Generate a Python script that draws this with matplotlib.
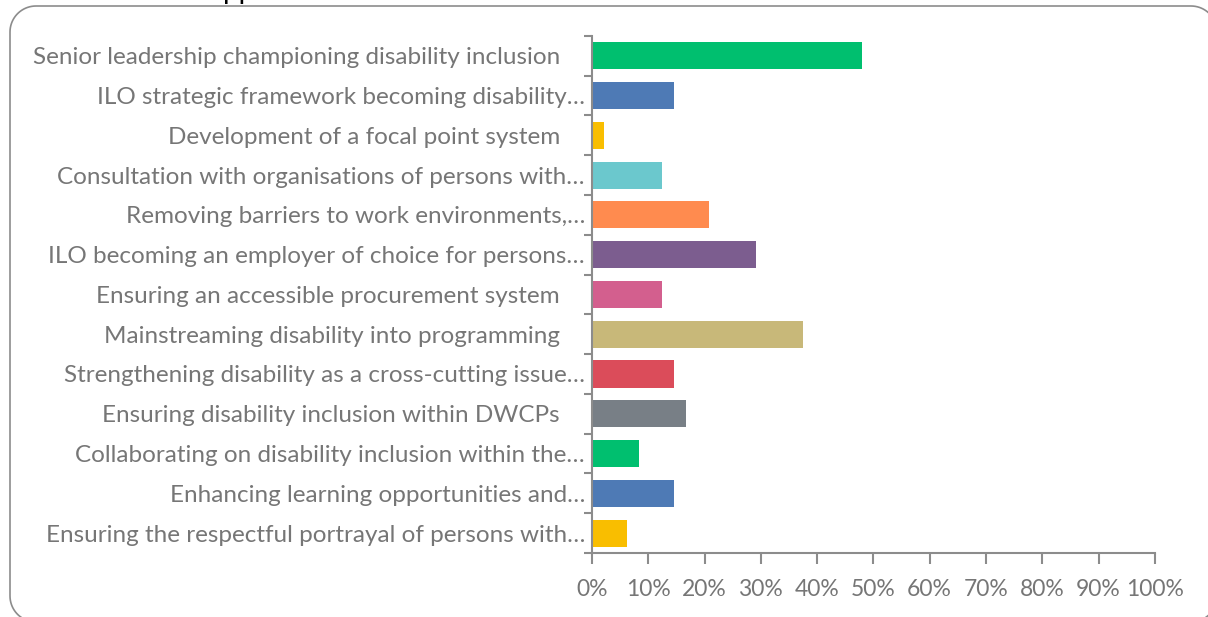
import numpy as np
import matplotlib.pyplot as plt
from matplotlib.lines import Line2D
from matplotlib.ticker import FuncFormatter

plt.rcParams['font.family'] = ['Lato', 'DejaVu Sans']

# survey responses (share of respondents), top to bottom
labels = [
    "Senior leadership championing disability inclusion    ",
    "ILO strategic framework becoming disability…",
    "Development of a focal point system    ",
    "Consultation with organisations of persons with…",
    "Removing barriers to work environments,…",
    "ILO becoming an employer of choice for persons…",
    "Ensuring an accessible procurement system    ",
    "Mainstreaming disability into programming    ",
    "Strengthening disability as a cross-cutting issue…",
    "Ensuring disability inclusion within DWCPs    ",
    "Collaborating on disability inclusion within the…",
    "Enhancing learning opportunities and…",
    "Ensuring the respectful portrayal of persons with…",
]
values = [47.9, 14.6, 2.1, 12.5, 20.8, 29.2, 12.5, 37.5, 14.6, 16.7, 8.3, 14.6, 6.25]
colors = ["#00BF6F", "#4E7AB5", "#F9BE00", "#6BC8CD", "#FF8B4F", "#7C5D8F",
          "#D35F8E", "#C8B879", "#DB4C5A", "#787F86", "#00BF6F", "#4E7AB5", "#F9BE00"]

axis_col = "#8c8c8c"
text_col = "#767676"

fig = plt.figure(figsize=(12.08, 6.17), dpi=100)
ax = fig.add_axes([0.49, 0.1037, 0.466, 0.8383])

pos = list(range(len(labels)))
ax.barh(pos, values, height=0.68, color=colors)
ax.set_ylim(len(labels) - 0.5, -0.5)
ax.set_xlim(0, 100)

ax.set_yticks(pos)
ax.set_yticklabels(labels, fontsize=17.5, color=text_col)
ax.set_yticks([p - 0.5 for p in pos] + [len(labels) - 0.5], minor=True)
ax.tick_params(axis='y', which='major', length=0, pad=5)
ax.tick_params(axis='y', which='minor', length=6, width=1.5, color=axis_col)

ax.set_xticks(range(0, 101, 10))
ax.xaxis.set_major_formatter(FuncFormatter(lambda v, _: f"{v:.0f}%"))
ax.tick_params(axis='x', length=8, width=1.5, color=axis_col,
               labelsize=16.5, labelcolor=text_col, pad=11)

for side in ['top', 'right']:
    ax.spines[side].set_visible(False)
for side in ['left', 'bottom']:
    ax.spines[side].set_color(axis_col)
    ax.spines[side].set_linewidth(1.5)

# rounded chart frame in inches, built from straight segments so the
# parts running past the canvas get clipped cleanly
x0, y0, x1, y1, r = 0.10, -0.05, 12.17, 6.11, 0.26
t = np.linspace(0, np.pi / 2, 20)
xs, ys = [], []
for cx, cy, a0 in [(x1 - r, y1 - r, 0), (x0 + r, y1 - r, np.pi / 2),
                   (x0 + r, y0 + r, np.pi), (x1 - r, y0 + r, 1.5 * np.pi)]:
    xs.extend(cx + r * np.cos(a0 + t))
    ys.extend(cy + r * np.sin(a0 + t))
xs.append(xs[0])
ys.append(ys[0])
fig.add_artist(Line2D(xs, ys, transform=fig.dpi_scale_trans,
                      color=axis_col, linewidth=1.2))

# title sits above the visible area
fig.text(0.1848, 1.0 + 1 / 617, "pp", fontsize=20, color="black", va='baseline')

fig.savefig("out.png", dpi=100)
